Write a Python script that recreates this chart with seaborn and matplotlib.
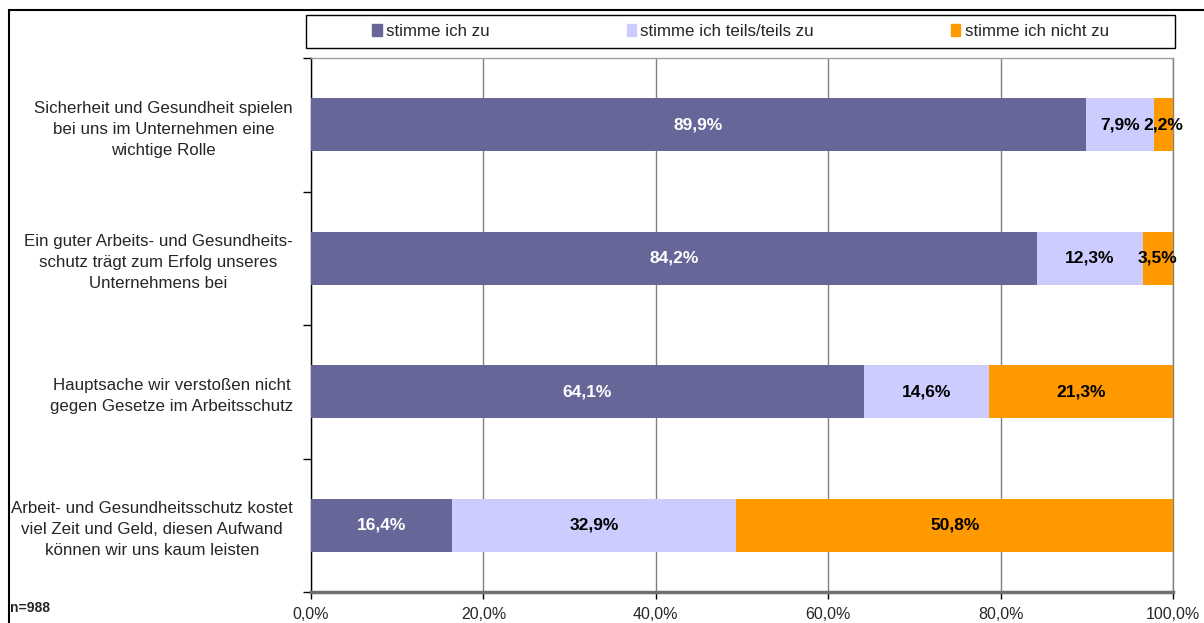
import pandas as pd
import numpy as np
import matplotlib
matplotlib.use("Agg")
import matplotlib.pyplot as plt
import matplotlib.patches as mpatches
import seaborn as sns

# Data
statements = [
    "Sicherheit und Gesundheit spielen\nbei uns im Unternehmen eine\nwichtige Rolle",
    "Ein guter Arbeits- und Gesundheits-\nschutz trägt zum Erfolg unseres\nUnternehmens bei",
    "Hauptsache wir verstoßen nicht\ngegen Gesetze im Arbeitsschutz",
    "Arbeit- und Gesundheitsschutz kostet\nviel Zeit und Geld, diesen Aufwand\nkönnen wir uns kaum leisten",
]
agree = [89.9, 84.2, 64.1, 16.4]
partly = [7.9, 12.3, 14.6, 32.9]
disagree = [2.2, 3.5, 21.3, 50.8]
series_names = ["stimme ich zu", "stimme ich teils/teils zu", "stimme ich nicht zu"]
colors = ["#666699", "#CCCCFF", "#FF9900"]
x_ticks = [0, 20, 40, 60, 80, 100]
sample_note = "n=988"

sns.set_style("white")
plt.rcParams["font.family"] = ["Liberation Sans", "DejaVu Sans"]

df = pd.DataFrame({"statement": statements, "agree": agree,
                   "partly": partly, "disagree": disagree})
df["c1"] = df["agree"]
df["c2"] = df["agree"] + df["partly"]
df["c3"] = df["c2"] + df["disagree"]

fig = plt.figure(figsize=(12.04, 6.23), dpi=100)
ax = fig.add_axes([311 / 1204, 1 - 592 / 623, 862 / 1204, 534 / 623])

# stacked bars by overdrawing cumulative totals
for col, c in zip(["c3", "c2", "c1"], colors[::-1]):
    sns.barplot(data=df, x=col, y="statement", orient="h", color=c, saturation=1,
                width=0.4, ax=ax, edgecolor="none", linewidth=0, zorder=3)

ax.set_xlim(0, 100)
ax.set_ylim(3.5, -0.5)
ax.set_xticks(x_ticks)
ax.set_xticklabels([f"{v:.1f}%".replace(".", ",") for v in x_ticks], fontsize=11.5)
ax.set_yticks(np.arange(-0.5, 4, 1))
ax.set_yticklabels([])
ax.set_yticks(range(len(statements)), minor=True)
ax.set_yticklabels(statements, minor=True, fontsize=12.2, multialignment="center",
                   linespacing=1.5)
ax.tick_params(axis="y", which="major", length=6, color="black", width=1, direction="out", left=True)
ax.tick_params(axis="y", which="minor", length=0, pad=13)
ax.tick_params(axis="x", length=5, color="black", width=1, direction="out", bottom=True, pad=6)
ax.set_xlabel("")
ax.set_ylabel("")

ax.grid(axis="x", color="#808080", linewidth=1, zorder=0)
ax.set_axisbelow(True)
ax.spines["left"].set_color("black")
ax.spines["left"].set_linewidth(1)
ax.spines["bottom"].set_color("#707070")
ax.spines["bottom"].set_linewidth(2.5)
ax.spines["top"].set_color("#A0A0A0")
ax.spines["right"].set_color("#808080")
ax.spines["top"].set_linewidth(1)
ax.spines["right"].set_linewidth(1)

# value labels
for i, row in df.iterrows():
    segs = [(0, row["agree"]), (row["c1"], row["partly"]), (row["c2"], row["disagree"])]
    for j, (start, w) in enumerate(segs):
        ax.text(start + w / 2, i, f"{w:.1f}%".replace(".", ","), ha="center", va="center",
                fontsize=12.5, fontweight="bold", color="white" if j == 0 else "black",
                zorder=5)

# legend
handles = [mpatches.Patch(color=c, label=n) for c, n in zip(colors, series_names)]
leg = fig.legend(handles=handles, loc="center", ncol=3,
                 bbox_to_anchor=(306 / 1204, 1 - 48 / 623, 869 / 1204, 33 / 623),
                 bbox_transform=fig.transFigure,
                 frameon=True, fancybox=False, fontsize=12.2,
                 handlelength=0.55, handleheight=0.7, handletextpad=0.25,
                 borderaxespad=0, columnspacing=8.1, borderpad=0.6)
leg.get_frame().set_edgecolor("none")
leg.get_frame().set_alpha(0)
# legend box spans the full plot width
fig.patches.append(mpatches.Rectangle((306 / 1204, 1 - 48 / 623), 869 / 1204, 33 / 623,
                                      transform=fig.transFigure, fill=False,
                                      edgecolor="black", linewidth=1))

fig.text(10 / 1204, 1 - 608 / 623, sample_note, fontsize=10, fontweight="bold",
         ha="left", va="center")

# outer frame of the chart area
fig.patches.append(mpatches.Rectangle((9 / 1204, -0.2), 1.2, 1.2 - 10 / 623,
                                      transform=fig.transFigure, fill=False,
                                      edgecolor="black", linewidth=1.5, clip_on=False))

fig.savefig("out.png", dpi=100)
